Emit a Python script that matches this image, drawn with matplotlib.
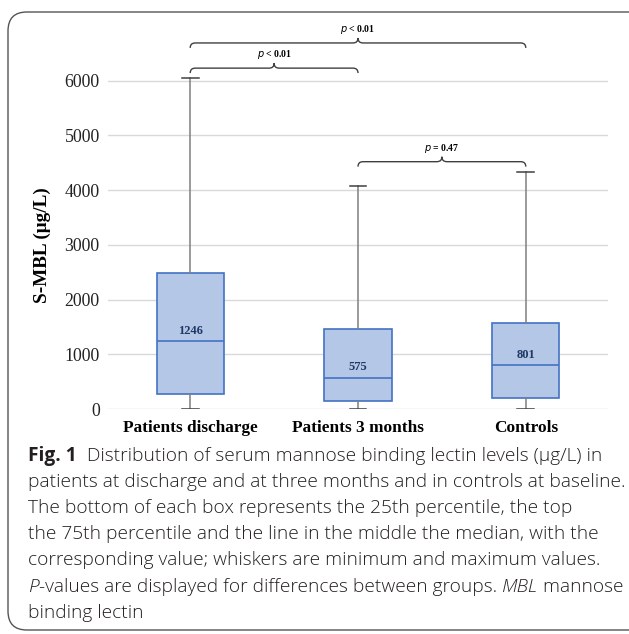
import numpy as np
import matplotlib
matplotlib.use('Agg')
import matplotlib.pyplot as plt
from matplotlib.patches import FancyBboxPatch
from matplotlib.path import Path
from matplotlib.patches import PathPatch

# Data
groups = ['Patients discharge', 'Patients 3 months', 'Controls']
mins = [0, 0, 0]
q1 = [274, 152, 201]
medians = [1246, 575, 801]
q3 = [2481, 1463, 1578]
maxs = [6057, 4082, 4338]

# comparisons: (group a, group b, level, label)
comp_a = [0, 0, 1]
comp_b = [1, 2, 2]
comp_y = [6230, 6690, 4520]
comp_txt = ['< 0.01', '< 0.01', '= 0.47']

W, H = 629, 634
fig = plt.figure(figsize=(W / 100, H / 100), dpi=100)
ax = fig.add_axes([108 / W, 1 - 409 / H, 500 / W, (409 - 26) / H])

serif = 'Liberation Serif'
box_fill = '#b4c7e7'
box_edge = '#4472c4'
whisk = '#7f7f7f'

stats = []
for i in range(len(groups)):
    stats.append(dict(whislo=mins[i], q1=q1[i], med=medians[i], q3=q3[i],
                      whishi=maxs[i], label=groups[i]))

ax.bxp(stats, positions=range(len(groups)), widths=0.4, showfliers=False,
       patch_artist=True,
       boxprops=dict(facecolor=box_fill, edgecolor=box_edge, linewidth=1.2),
       medianprops=dict(color=box_edge, linewidth=1.2),
       whiskerprops=dict(color=whisk, linewidth=1.1),
       capprops=dict(color='#404040', linewidth=1.1),
       capwidths=0.1, zorder=3)

for i, m in enumerate(medians):
    ax.annotate(str(m), (i, m), xytext=(0, 3), textcoords='offset points',
                ha='center', va='bottom', fontsize=9, fontweight='bold',
                family=serif, color='#1f3864', zorder=4)

# braces
dx = 0.03
dy = 90
for a, b, y, t in zip(comp_a, comp_b, comp_y, comp_txt):
    xm = (a + b) / 2
    verts = [(a, y - dy), (a, y), (a + dx, y), (xm - dx, y), (xm, y), (xm, y + dy),
             (xm, y), (xm + dx, y), (b - dx, y), (b, y), (b, y - dy)]
    codes = [Path.MOVETO, Path.CURVE3, Path.CURVE3, Path.LINETO, Path.CURVE3, Path.CURVE3,
             Path.CURVE3, Path.CURVE3, Path.LINETO, Path.CURVE3, Path.CURVE3]
    ax.add_patch(PathPatch(Path(verts, codes), facecolor='none', edgecolor='#404040',
                           lw=1.0, clip_on=False, zorder=4))
    ax.text(xm, y + 130, '$\\it{p}$ ' + t, ha='center', va='bottom', fontsize=7,
            fontweight='bold', family=serif)

ax.set_xlim(-0.49, 2.49)
ax.set_ylim(0, 7000)
ax.set_yticks(np.arange(0, 7000, 1000))
ax.yaxis.grid(True, color='#d9d9d9', lw=1.0, zorder=0)
ax.set_axisbelow(True)
for s in ax.spines.values():
    s.set_visible(False)
ax.tick_params(axis='y', length=0, pad=6)
ax.tick_params(axis='x', length=0, pad=8)
ax.set_xticks(range(len(groups)))
ax.set_xticklabels(groups, family=serif, fontweight='bold', fontsize=12.4)
for lab in ax.get_yticklabels():
    lab.set_family(serif)
    lab.set_fontsize(12.8)
    lab.set_color('#222222')
ax.set_ylabel('S-MBL (μg/L)', family=serif, fontweight='bold', fontsize=13.8)
ax.yaxis.set_label_coords(-0.114, 0.428)

# rounded frame
fig.patches.append(FancyBboxPatch((8 / W, 1 - 630 / H), 700 / W, 618 / H,
                                  boxstyle='round,pad=0,rounding_size=0.03',
                                  transform=fig.transFigure, facecolor='none',
                                  edgecolor='#555555', lw=1.0, clip_on=False))

# caption
cap_font = 'Open Sans'
lines = [
    [('Fig. 1', 'bold', 'normal'), ('  Distribution of serum mannose binding lectin levels (μg/L) in', 'light', 'normal')],
    [('patients at discharge and at three months and in controls at baseline.', 'light', 'normal')],
    [('The bottom of each box represents the 25th percentile, the top', 'light', 'normal')],
    [('the 75th percentile and the line in the middle the median, with the', 'light', 'normal')],
    [('corresponding value; whiskers are minimum and maximum values.', 'light', 'normal')],
    [('P', 'light', 'italic'), ('-values are displayed for differences between groups. ', 'light', 'normal'),
     ('MBL', 'light', 'italic'), (' mannose', 'light', 'normal')],
    [('binding lectin', 'light', 'normal')],
]
fig.canvas.draw()
r = fig.canvas.get_renderer()
# size the caption so the second line spans the same width as in the figure
probe = fig.text(0, 0, lines[1][0][0], fontsize=10, family=cap_font, fontweight='light')
cap_size = 10 * 594 / probe.get_window_extent(r).width
probe.remove()

y0 = 456
for k, parts in enumerate(lines):
    x = 28
    y = y0 + k * 26.1
    for txt, wt, st in parts:
        t = fig.text(x / W, 1 - y / H, txt, fontsize=cap_size, family=cap_font,
                     fontweight=wt, fontstyle=st, va='center', ha='left', color='#231f20')
        x += t.get_window_extent(r).width

fig.savefig('out.png', dpi=100)
